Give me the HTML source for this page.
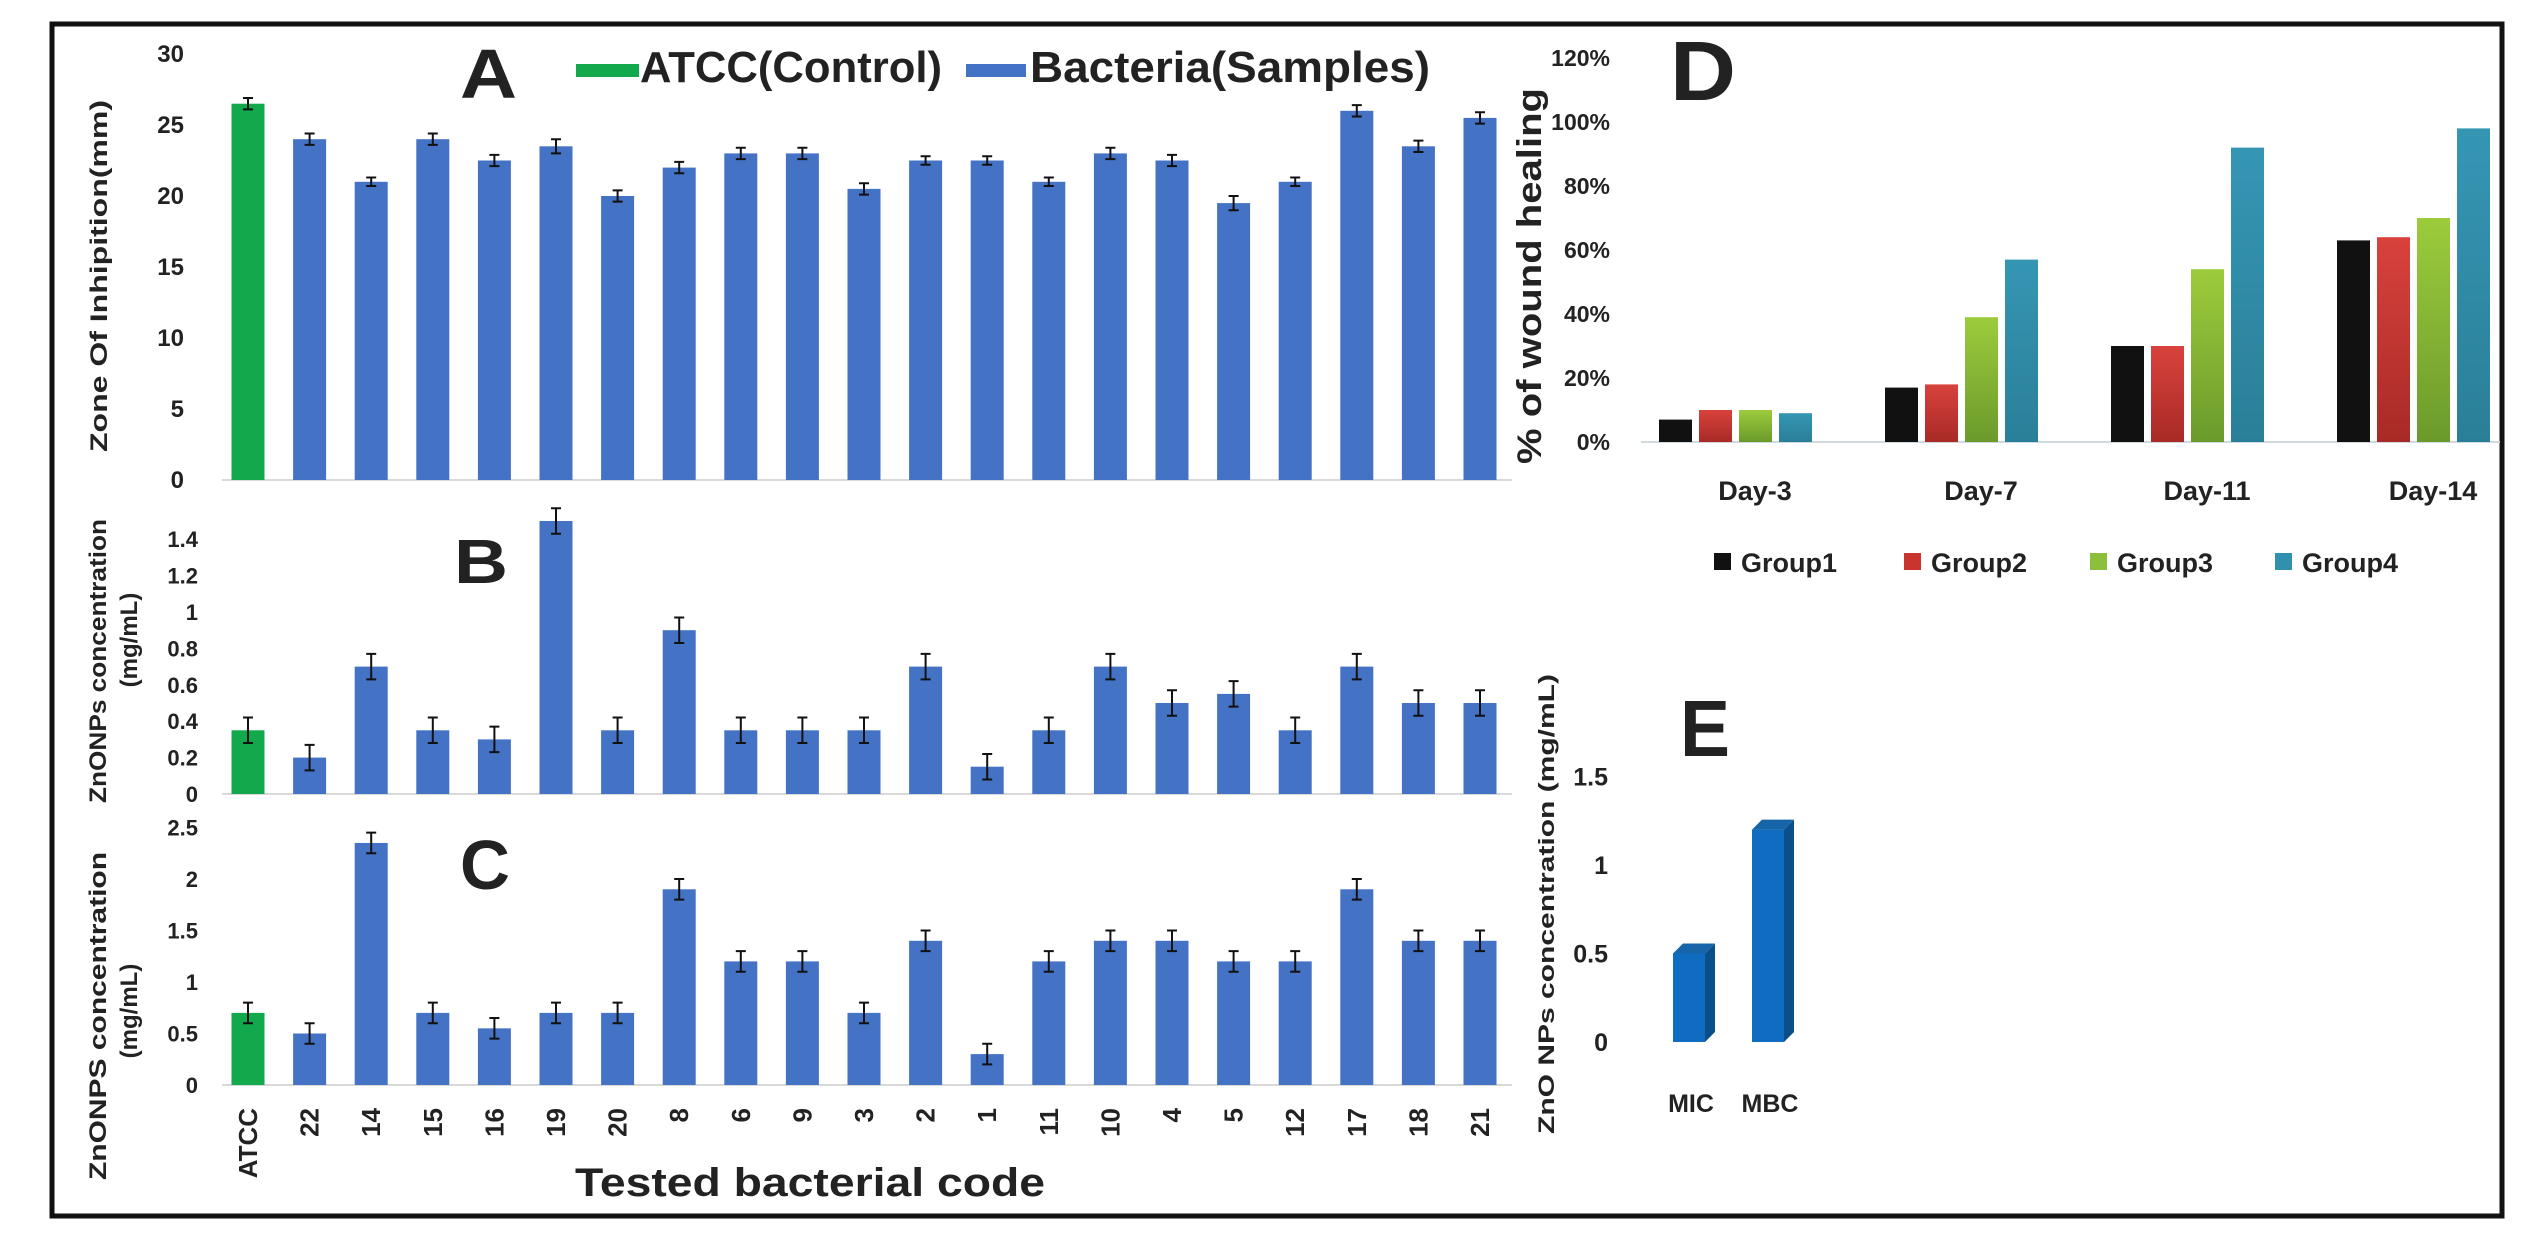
<!DOCTYPE html>
<html><head><meta charset="utf-8"><style>
html,body{margin:0;padding:0;background:#fff;}
svg{display:block;}
text{font-family:"Liberation Sans",sans-serif;font-weight:bold;fill:#222;}
</style></head><body>
<svg id="fig" width="2548" height="1248" viewBox="0 0 2548 1248" xmlns="http://www.w3.org/2000/svg">
<defs>
<linearGradient id="gRed" x1="0" y1="0" x2="0" y2="1"><stop offset="0" stop-color="#d9423d"/><stop offset="1" stop-color="#a82a26"/></linearGradient>
<linearGradient id="gGreen" x1="0" y1="0" x2="0" y2="1"><stop offset="0" stop-color="#9ccc3c"/><stop offset="1" stop-color="#6b9a2c"/></linearGradient>
<linearGradient id="gTeal" x1="0" y1="0" x2="0" y2="1"><stop offset="0" stop-color="#3596b4"/><stop offset="1" stop-color="#2a7f98"/></linearGradient>
</defs>
<rect x="52" y="24" width="2450" height="1192" fill="none" stroke="#111" stroke-width="5"/>
<g id="left"></g>
<g id="right"></g>
</svg>
<script>
const categories=["ATCC","22","14","15","16","19","20","8","6","9","3","2","1","11","10","4","5","12","17","18","21"];
const valuesA=[26.5,24,21,24,22.5,23.5,20,22,23,23,20.5,22.5,22.5,21,23,22.5,19.5,21,26,23.5,25.5];
const errA=[0.4,0.4,0.3,0.4,0.4,0.5,0.4,0.4,0.4,0.4,0.4,0.3,0.3,0.3,0.4,0.4,0.5,0.3,0.4,0.4,0.4];
const valuesB=[0.35,0.2,0.7,0.35,0.3,1.5,0.35,0.9,0.35,0.35,0.35,0.7,0.15,0.35,0.7,0.5,0.55,0.35,0.7,0.5,0.5];
const valuesC=[0.7,0.5,2.35,0.7,0.55,0.7,0.7,1.9,1.2,1.2,0.7,1.4,0.3,1.2,1.4,1.4,1.2,1.2,1.9,1.4,1.4];
const ticksA=[0,5,10,15,20,25,30];
const ticksB=[0,0.2,0.4,0.6,0.8,1,1.2,1.4];
const ticksC=[0,0.5,1,1.5,2,2.5];
const days=["Day-3","Day-7","Day-11","Day-14"];
const groups=["Group1","Group2","Group3","Group4"];
const group1=[7,17,30,63];
const group2=[10,18,30,64];
const group3=[10,39,54,70];
const group4=[9,57,92,98];
const ticksD=[0,20,40,60,80,100,120];
const catsE=["MIC","MBC"];
const valuesE=[0.5,1.2];
const ticksE=[0,0.5,1,1.5];

const NS="http://www.w3.org/2000/svg";
function mk(parent,tag,attrs,txt){const e=document.createElementNS(NS,tag);for(const k in attrs)e.setAttribute(k,attrs[k]);if(txt!==undefined)e.textContent=txt;parent.appendChild(e);return e;}
const L=document.getElementById('left'), R=document.getElementById('right');

// shared x axis for A,B,C
const x0=248, step=61.6, bw=33;
const xc=i=>x0+i*step;

function panel(name,vals,ticks,base,pxPerUnit,err,tickFmt){
  const g=mk(L,'g',{});
  
  
  const y=v=>base-v*pxPerUnit;
  const ax=mk(g,'line',{x1:222,x2:1512,y1:base,y2:base,stroke:'#d9d9d9','stroke-width':2});
  
  
  ticks.forEach(t=>{
    const tl=mk(g,'text',{x:name==='a'?184:198,y:y(t)+8,'text-anchor':'end','font-size':name==='a'?24:22},tickFmt(t));
    
    
  });
  vals.forEach((v,i)=>{
    const b=mk(g,'rect',{x:xc(i)-bw/2,y:y(v),width:bw,height:v*pxPerUnit,fill:i===0?'#12a94c':'#4472c4'});
    
    
    const e=err[i]*pxPerUnit;
    const eb=mk(g,'path',{d:`M${xc(i)} ${y(v)-e}V${y(v)+e}M${xc(i)-5} ${y(v)-e}H${xc(i)+5}M${xc(i)-5} ${y(v)+e}H${xc(i)+5}`,stroke:'#111','stroke-width':2,fill:'none'});
    
    
  });
  return g;
}
panel('a',valuesA,ticksA,480,14.2,errA,t=>String(t));
panel('b',valuesB,ticksB,794,182,valuesB.map(()=>0.07),t=>String(t));
panel('c',valuesC,ticksC,1085,103,valuesC.map(()=>0.1),t=>String(t));

// category labels
categories.forEach((c,i)=>{
  const t=mk(L,'text',{x:0,y:0,transform:`translate(${xc(i)+9},1108) rotate(-90)`,'text-anchor':'end','font-size':26},c);
  
  
});
</script>
<script>
// static labels for left side
(function(){
const L=document.getElementById('left');
const NS="http://www.w3.org/2000/svg";
function mk(parent,tag,attrs,txt,name){const e=document.createElementNS(NS,tag);for(const k in attrs)e.setAttribute(k,attrs[k]);if(txt!==undefined)e.textContent=txt;parent.appendChild(e);return e;}
mk(L,'text',{x:0,y:0,transform:'translate(107,276) rotate(-90)','text-anchor':'middle','font-size':24,textLength:352,lengthAdjust:'spacingAndGlyphs'},'Zone Of Inhipition(mm)','y-axis-title-a');
mk(L,'text',{x:0,y:0,transform:'translate(106,661) rotate(-90)','text-anchor':'middle','font-size':24,textLength:284,lengthAdjust:'spacingAndGlyphs'},'ZnONPs concentration','y-axis-title-b');
mk(L,'text',{x:0,y:0,transform:'translate(137,640) rotate(-90)','text-anchor':'middle','font-size':24},'(mg/mL)','y-axis-unit-b');
mk(L,'text',{x:0,y:0,transform:'translate(106,1016) rotate(-90)','text-anchor':'middle','font-size':24,textLength:328,lengthAdjust:'spacingAndGlyphs'},'ZnONPS concentration','y-axis-title-c');
mk(L,'text',{x:0,y:0,transform:'translate(137,1011) rotate(-90)','text-anchor':'middle','font-size':24},'(mg/mL)','y-axis-unit-c');
mk(L,'text',{x:460,y:98,'font-size':70,textLength:57,lengthAdjust:'spacingAndGlyphs'},'A','panel-letter-a');
mk(L,'text',{x:454,y:583,'font-size':62,textLength:54,lengthAdjust:'spacingAndGlyphs'},'B','panel-letter-b');
mk(L,'text',{x:460,y:889,'font-size':70,textLength:50,lengthAdjust:'spacingAndGlyphs'},'C','panel-letter-c');
mk(L,'rect',{x:576,y:64,width:63,height:13,fill:'#12a94c'},undefined,'legend-swatch-control');
mk(L,'text',{x:640,y:82,'font-size':44,textLength:302,lengthAdjust:'spacingAndGlyphs'},'ATCC(Control)','legend-entry-control');
mk(L,'rect',{x:966,y:64,width:60,height:13,fill:'#4472c4'},undefined,'legend-swatch-samples');
mk(L,'text',{x:1030,y:82,'font-size':44,textLength:400,lengthAdjust:'spacingAndGlyphs'},'Bacteria(Samples)','legend-entry-samples');
mk(L,'text',{x:810,y:1196,'text-anchor':'middle','font-size':40,textLength:470,lengthAdjust:'spacingAndGlyphs'},'Tested bacterial code','x-axis-title');
})();
</script>
<script>
(function(){
const R=document.getElementById('right');
const NS="http://www.w3.org/2000/svg";
function mk(parent,tag,attrs,txt){const e=document.createElementNS(NS,tag);for(const k in attrs)e.setAttribute(k,attrs[k]);if(txt!==undefined)e.textContent=txt;parent.appendChild(e);return e;}
// Panel D
const base=442, ppu=3.2, gx0=1659, gstep=226, bwD=33, boff=40;
const yD=v=>base-v*ppu;
const series=[group1,group2,group3,group4];
const fills=['#111111','url(#gRed)','url(#gGreen)','url(#gTeal)'];
const sw=['#111','#c9342f','#8cbf3a','#3190ae'];
const ax=mk(R,'line',{x1:1641,x2:2500,y1:base,y2:base,stroke:'#d0d8e0','stroke-width':2});


ticksD.forEach(t=>{
  const e=mk(R,'text',{x:1610,y:yD(t)+8,'text-anchor':'end','font-size':23},t+'%');
  
  
});
days.forEach((d,i)=>{
  series.forEach((s,j)=>{
    const b=mk(R,'rect',{x:gx0+i*gstep+j*boff,y:yD(s[i]),width:bwD,height:s[i]*ppu,fill:fills[j]});
    
    
  });
  const t=mk(R,'text',{x:gx0+i*gstep+96,y:500,'text-anchor':'middle','font-size':27},d);
  
  
});
const legX=[1714,1904,2090,2275];
groups.forEach((g,j)=>{
  const r=mk(R,'rect',{x:legX[j],y:553,width:17,height:17,fill:sw[j]});
  
  
  const t=mk(R,'text',{x:legX[j]+27,y:572,'font-size':27},g);
  
  
});
const yt=mk(R,'text',{x:0,y:0,transform:'translate(1541,276) rotate(-90)','text-anchor':'middle','font-size':34,textLength:376,lengthAdjust:'spacingAndGlyphs'},'% of wound healing');


const dl=mk(R,'text',{x:1670,y:100,'font-size':84,textLength:66,lengthAdjust:'spacingAndGlyphs'},'D');



// Panel E
const baseE=1042, ppuE=177, bwE=32, depth=10;
const yE=v=>baseE-v*ppuE;
const exs=[1673,1752];
ticksE.forEach(t=>{
  const e=mk(R,'text',{x:1608,y:yE(t)+9,'text-anchor':'end','font-size':25},String(t));
  
  
});
valuesE.forEach((v,i)=>{
  const x=exs[i], top=yE(v);
  const side=mk(R,'path',{d:`M${x+bwE} ${top}L${x+bwE+depth} ${top-depth}V${baseE-depth}L${x+bwE} ${baseE}Z`,fill:'#0b4f8a'});
  
  
  const tp=mk(R,'path',{d:`M${x} ${top}L${x+depth} ${top-depth}H${x+bwE+depth}L${x+bwE} ${top}Z`,fill:'#1565a8'});
  
  
  const f=mk(R,'rect',{x:x,y:top,width:bwE,height:v*ppuE,fill:'#0f6cc0'});
  
  
  const t=mk(R,'text',{x:x+bwE/2+2,y:1112,'text-anchor':'middle','font-size':25,'font-weight':'normal'},catsE[i]);
  
  
});
const ye=mk(R,'text',{x:0,y:0,transform:'translate(1554,904) rotate(-90)','text-anchor':'middle','font-size':22,textLength:460,lengthAdjust:'spacingAndGlyphs'},'ZnO NPs concentration (mg/mL)');


const el=mk(R,'text',{x:1680,y:756,'font-size':80,textLength:50,lengthAdjust:'spacingAndGlyphs'},'E');


})();
</script>
</body></html>
